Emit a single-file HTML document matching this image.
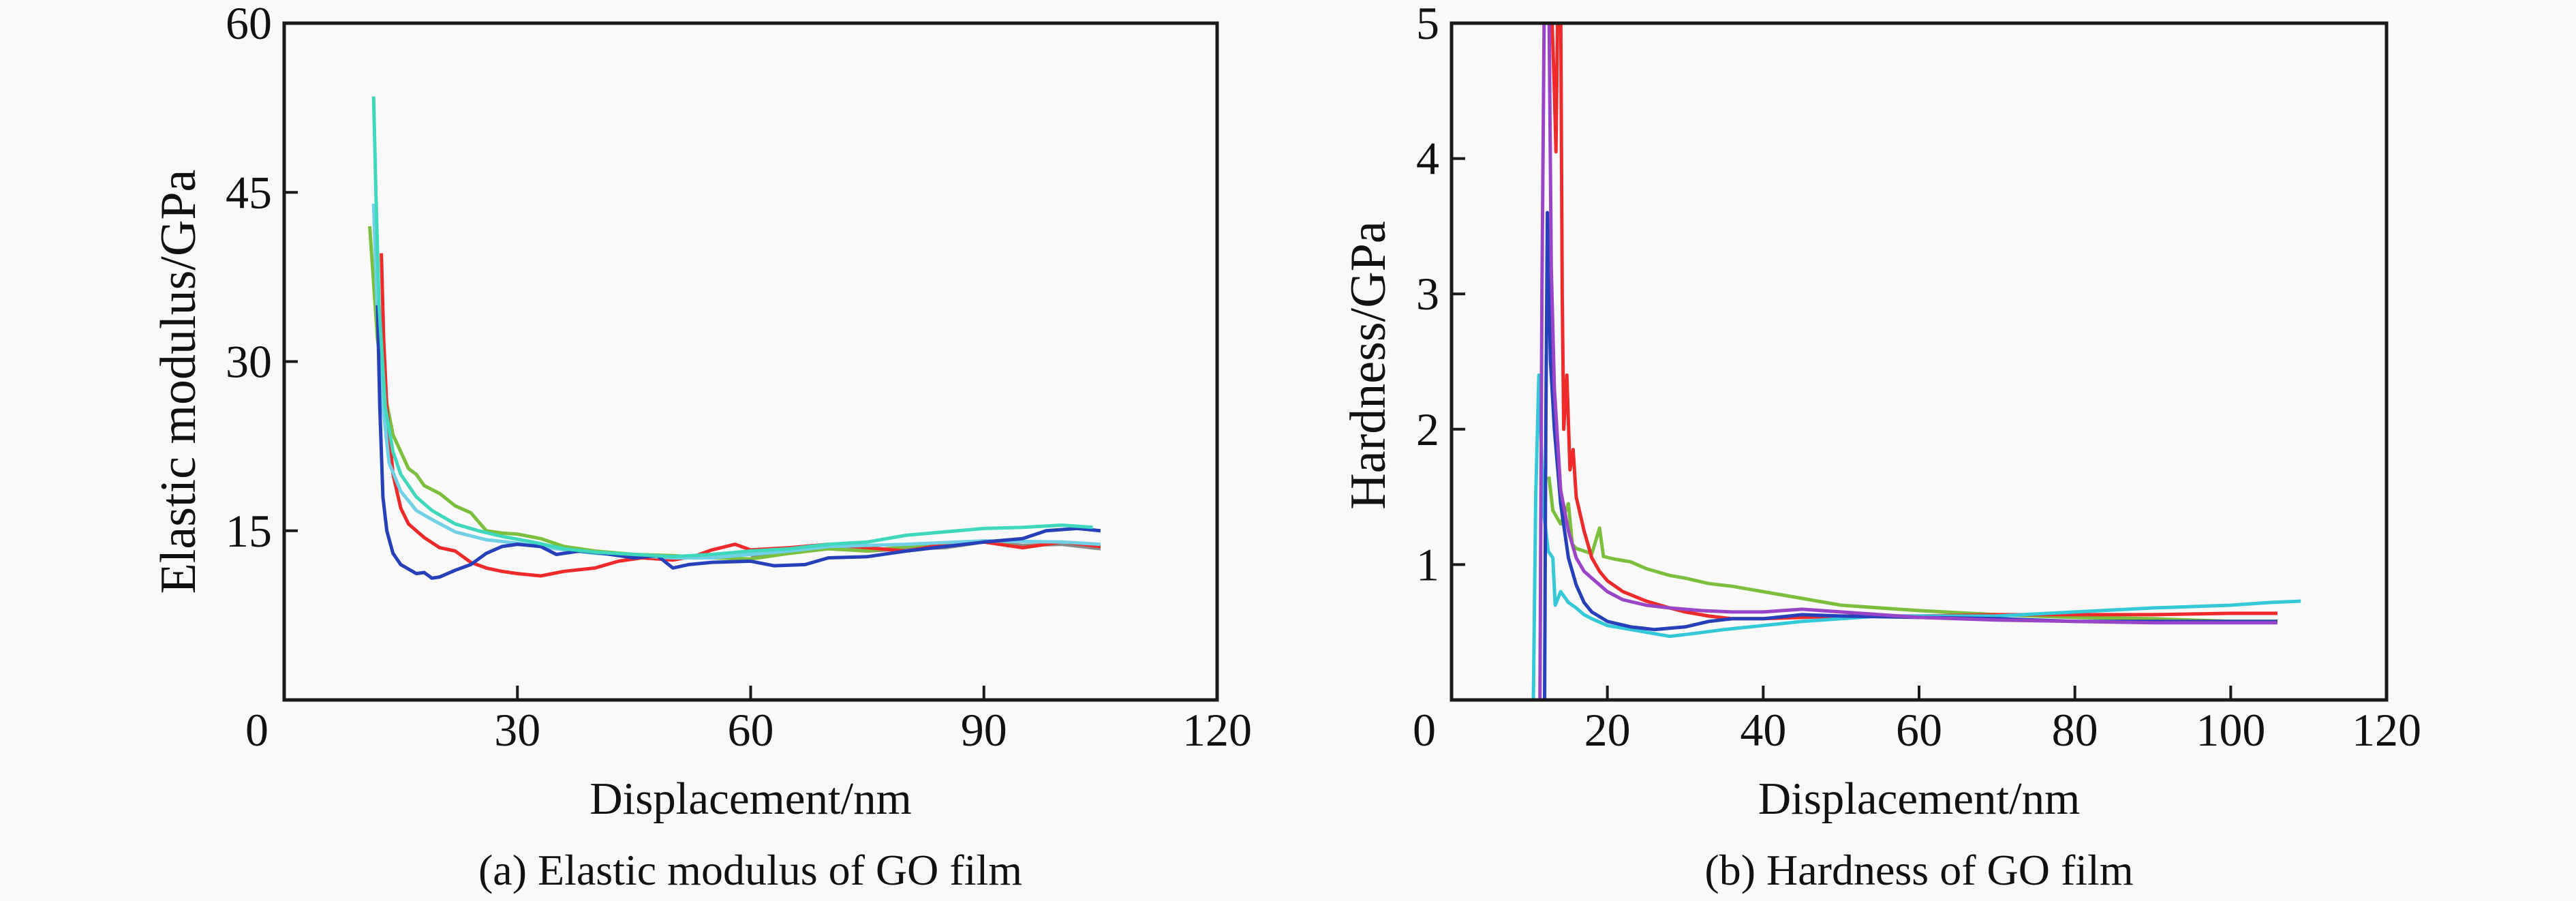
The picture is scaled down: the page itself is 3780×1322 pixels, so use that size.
<!DOCTYPE html>
<html><head><meta charset="utf-8">
<style>
html,body{margin:0;padding:0;background:#f9f9f9;}
svg{display:block;font-family:"Liberation Serif",serif;}
</style></head>
<body>
<svg id="fig" width="3780" height="1322" viewBox="0 0 3780 1322">
<rect x="0" y="0" width="3780" height="1322" fill="#f9f9f9"/>
<g id="chartA"></g>
<g id="chartB"></g>
</svg>
<script>
// ---- Chart (a) data ----
const aXTicks = [0, 30, 60, 90, 120];
const aYTicks = [0, 15, 30, 45, 60];
const aYTickLabels = ["", "15", "30", "45", "60"];
const aTeal = [[11.5,53.5],[11.8,45],[12.2,35],[13,26],[14,22],[15,20],[17,18],[19,16.8],[22,15.6],[25,15],[28,14.5],[32,14],[36,13.4],[40,13.1],[45,12.9],[50,12.7],[55,12.9],[60,13.2],[65,13.4],[70,13.8],[75,14],[80,14.6],[85,14.9],[90,15.2],[95,15.3],[100,15.5],[104,15.3]];
const aGreen = [[11,42],[11.5,37],[12,32],[13,27],[14,23.5],[15,22],[16,20.5],[17,20],[18,19],[20,18.3],[22,17.2],[24,16.6],[26,15],[28,14.8],[30,14.7],[33,14.3],[36,13.6],[40,13.2],[45,12.9],[50,12.8],[55,12.6],[60,12.5],[65,13],[70,13.4],[75,13.2],[80,13.6],[85,13.9],[90,14.1],[95,13.5],[100,14],[105,13.6]];
const aRed = [[12.5,39.6],[12.8,32],[13.2,26],[14,20],[15,17],[16,15.6],[17,15],[18,14.4],[20,13.5],[22,13.2],[24,12.2],[26,11.7],[28,11.4],[30,11.2],[33,11],[36,11.4],[40,11.7],[43,12.3],[46,12.6],[50,12.4],[53,12.8],[55,13.3],[58,13.8],[60,13.3],[65,13.5],[70,13.8],[75,13.5],[80,13.2],[85,13.8],[90,14],[95,13.5],[100,14],[105,13.6]];
const aBlue = [[12,35],[12.3,26],[12.7,18],[13.2,15],[14,13],[15,12],[16,11.6],[17,11.2],[18,11.3],[19,10.8],[20,10.9],[22,11.5],[24,12],[26,13],[28,13.6],[30,13.8],[33,13.6],[35,12.9],[38,13.2],[41,13],[45,12.6],[48,12.8],[50,11.7],[52,12],[55,12.2],[60,12.3],[63,11.9],[67,12],[70,12.6],[75,12.7],[80,13.2],[85,13.6],[90,14],[95,14.3],[98,15],[102,15.2],[105,15]];
const aCyan = [[11.5,44],[12,34],[12.7,26],[13.5,21],[15,18.5],[17,16.8],[19,16],[22,14.9],[26,14.2],[30,13.9],[35,13.4],[40,13],[45,12.8],[50,12.6],[55,12.6],[60,12.9],[65,13.2],[70,13.6],[80,13.8],[90,14.1],[100,14],[105,13.8]];
const aGray = [[60,12.8],[65,13.1],[70,13.5],[75,13.2],[80,13.4],[85,13.5],[90,14],[95,13.7],[100,13.8],[105,13.4]];

// ---- Chart (b) data ----
const bXTicks = [0, 20, 40, 60, 80, 100, 120];
const bYTicks = [0, 1, 2, 3, 4, 5];
const bYTickLabels = ["", "1", "2", "3", "4", "5"];
const bRed = [[12.8,5.2],[13.2,4.5],[13.4,4.05],[13.6,5],[14,5.2],[14.2,3],[14.4,2],[14.8,2.4],[15.2,1.7],[15.6,1.85],[16,1.5],[17,1.25],[18,1.05],[19,0.95],[20,0.88],[22,0.8],[25,0.73],[28,0.68],[30,0.65],[33,0.62],[36,0.6],[40,0.6],[45,0.61],[50,0.62],[60,0.62],[70,0.63],[80,0.63],[90,0.63],[100,0.64],[106,0.64]];
const bGreen = [[12.5,1.65],[13,1.4],[14,1.3],[15,1.45],[15.5,1.15],[16,1.12],[17,1.1],[18,1.08],[19,1.27],[19.5,1.06],[21,1.04],[23,1.02],[25,0.97],[28,0.92],[30,0.9],[33,0.86],[36,0.84],[40,0.8],[45,0.75],[50,0.7],[55,0.68],[60,0.66],[70,0.63],[80,0.61],[90,0.6],[100,0.58],[106,0.58]];
const bPurple = [[11.3,-0.5],[11.6,3],[11.9,5.2],[12.5,5.2],[12.8,3.2],[13.2,2.3],[14,1.55],[15,1.25],[16,1.05],[17,0.95],[18,0.9],[20,0.8],[22,0.74],[25,0.7],[28,0.68],[32,0.66],[36,0.65],[40,0.65],[45,0.67],[50,0.65],[55,0.63],[60,0.61],[70,0.59],[80,0.58],[90,0.57],[100,0.57],[106,0.57]];
const bBlue = [[11.9,-0.5],[12.1,2],[12.3,3.6],[12.7,2.5],[13.2,2],[14,1.45],[15,1.05],[16,0.85],[17,0.72],[18,0.65],[20,0.58],[23,0.54],[26,0.52],[30,0.54],[33,0.58],[36,0.6],[40,0.6],[45,0.63],[50,0.62],[60,0.61],[70,0.6],[80,0.58],[90,0.58],[100,0.58],[106,0.58]];
const bCyan = [[10.4,-0.5],[10.8,1.5],[11.2,2.4],[11.8,1.4],[12.4,1.1],[13,1.05],[13.3,0.7],[14,0.8],[15,0.72],[16,0.68],[17,0.63],[18,0.6],[20,0.55],[23,0.52],[26,0.49],[28,0.47],[31,0.49],[35,0.52],[40,0.55],[45,0.58],[50,0.6],[55,0.62],[60,0.62],[70,0.62],[80,0.65],[90,0.68],[100,0.7],[105,0.72],[109,0.73]];

const NS = "http://www.w3.org/2000/svg";
function mk(parent, tag, attrs) {
  const e = document.createElementNS(NS, tag);
  for (const k in attrs) e.setAttribute(k, attrs[k]);
  parent.appendChild(e);
  return e;
}

function drawChart(g, opt) {
  const x0 = opt.x0, x1 = opt.x1, y0 = 34, y1 = 1027;
  const sx = v => x0 + (v - opt.xmin) / (opt.xmax - opt.xmin) * (x1 - x0);
  const sy = v => y1 - (v - opt.ymin) / (opt.ymax - opt.ymin) * (y1 - y0);

  const cp = mk(g, "clipPath", {id: opt.id + "-clip"});
  mk(cp, "rect", {x: x0, y: y0, width: x1 - x0, height: y1 - y0});

  const lines = mk(g, "g", {"clip-path": "url(#" + opt.id + "-clip)"});
  
  
  opt.series.forEach(s => {
    const p = mk(lines, "polyline", {
      points: s.data.map(d => sx(d[0]).toFixed(1) + "," + sy(d[1]).toFixed(1)).join(" "),
      fill: "none", stroke: s.color, "stroke-width": 5, "stroke-linejoin": "round"
    });
    
    
  });

  const frame = mk(g, "rect", {x: x0, y: y0, width: x1 - x0, height: y1 - y0, fill: "none", stroke: "#1a1a1a", "stroke-width": 5});
  
  

  opt.xTicks.forEach((t, i) => {
    const X = sx(t);
    if (i > 0 && i < opt.xTicks.length - 1) {
      const tk = mk(g, "line", {x1: X, x2: X, y1: y1, y2: y1 - 21, stroke: "#1a1a1a", "stroke-width": 4});
      
      
    }
    const lb = mk(g, "text", {x: X - (i === 0 ? 40 : 0), y: 1094, "font-size": 68, "text-anchor": "middle", fill: "#111"});
    lb.textContent = String(t);
    
    
  });
  opt.yTicks.forEach((t, i) => {
    const Y = sy(t);
    if (i > 0 && i < opt.yTicks.length - 1) {
      const tk = mk(g, "line", {x1: x0, x2: x0 + 20, y1: Y, y2: Y, stroke: "#1a1a1a", "stroke-width": 4});
      
      
    }
    if (opt.yLabels[i]) {
      const lb = mk(g, "text", {x: x0 - 18, y: Y + 23, "font-size": 68, "text-anchor": "end", fill: "#111"});
      lb.textContent = opt.yLabels[i];
      
      
    }
  });
  const xt = mk(g, "text", {x: (x0 + x1) / 2, y: 1194, "font-size": 67, "text-anchor": "middle", fill: "#111"});
  xt.textContent = "Displacement/nm";
  
  
  const yt = mk(g, "text", {x: 0, y: 0, "font-size": 74, "text-anchor": "middle", fill: "#111",
    transform: "translate(" + opt.yTitleX + "," + opt.yTitleY + ") rotate(-90)"});
  yt.textContent = opt.yTitle;
  
  
  const cap = mk(g, "text", {x: opt.capX, y: 1298, "font-size": 64, "text-anchor": "middle", fill: "#111"});
  cap.textContent = opt.caption;
  
  
}

drawChart(document.getElementById("chartA"), {
  id: "a", x0: 417, x1: 1786, xmin: 0, xmax: 120, ymin: 0, ymax: 60,
  xTicks: aXTicks, yTicks: aYTicks, yLabels: aYTickLabels,
  yTitle: "Elastic modulus/GPa", yTitleX: 286, yTitleY: 560,
  caption: "(a) Elastic modulus of GO film", capX: 1101,
  series: [
    {name: "series-gray", color: "#8a8a8a", data: aGray},
    {name: "series-green", color: "#7cbf3c", data: aGreen},
    {name: "series-red", color: "#ee2a2a", data: aRed},
    {name: "series-cyan", color: "#6fd0e6", data: aCyan},
    {name: "series-blue", color: "#2540b8", data: aBlue},
    {name: "series-teal", color: "#3fd8bd", data: aTeal}
  ]
});
drawChart(document.getElementById("chartB"), {
  id: "b", x0: 2130, x1: 3502, xmin: 0, xmax: 120, ymin: 0, ymax: 5,
  xTicks: bXTicks, yTicks: bYTicks, yLabels: bYTickLabels,
  yTitle: "Hardness/GPa", yTitleX: 2032, yTitleY: 536,
  caption: "(b) Hardness of GO film", capX: 2816,
  series: [
    {name: "series-green", color: "#7cbf3c", data: bGreen},
    {name: "series-red", color: "#ee2a2a", data: bRed},
    {name: "series-cyan", color: "#35c8d8", data: bCyan},
    {name: "series-blue", color: "#2540b8", data: bBlue},
    {name: "series-purple", color: "#9a45c8", data: bPurple}
  ]
});
</script>
</body></html>
